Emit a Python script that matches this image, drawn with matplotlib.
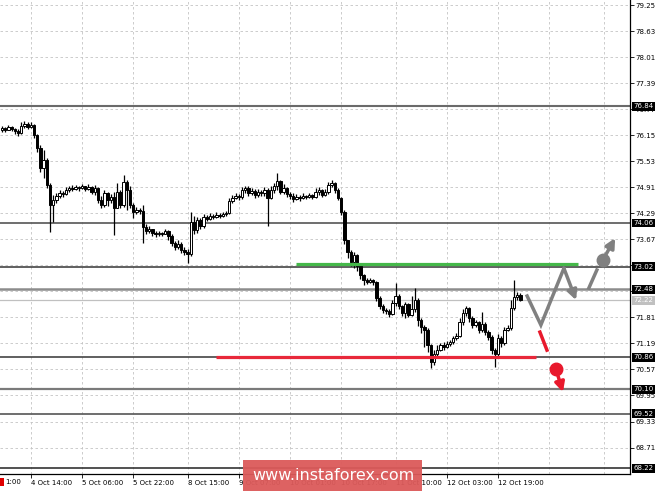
import matplotlib
matplotlib.use("Agg")

import matplotlib.pyplot as plt
from matplotlib.patches import Rectangle
import numpy as np

# H1 candles (open of each bar = previous close)
first_open = 76.27
closes = [76.32, 76.27, 76.34, 76.30, 76.25, 76.20, 76.37, 76.42, 76.34, 76.39,
          76.15, 75.84, 75.37, 75.56, 74.96, 74.49, 74.60, 74.70, 74.77, 74.75,
          74.84, 74.89, 74.87, 74.91, 74.89, 74.94, 74.87, 74.91, 74.80, 74.89,
          74.60, 74.49, 74.77, 74.60, 74.68, 74.41, 74.80, 74.49, 75.03, 74.84,
          74.49, 74.32, 74.37, 74.34, 73.96, 73.87, 73.91, 73.82, 73.79, 73.82,
          73.79, 73.87, 73.75, 73.58, 73.49, 73.56, 73.41, 73.37, 73.32, 74.08,
          73.89, 74.13, 73.98, 74.20, 74.15, 74.22, 74.20, 74.25, 74.22, 74.27,
          74.30, 74.58, 74.65, 74.70, 74.68, 74.84, 74.89, 74.77, 74.82, 74.72,
          74.80, 74.77, 74.84, 74.65, 74.84, 74.94, 75.06, 74.80, 74.89, 74.75,
          74.70, 74.63, 74.68, 74.65, 74.70, 74.68, 74.72, 74.68, 74.80, 74.84,
          74.72, 74.80, 74.96, 75.01, 74.84, 74.65, 74.32, 73.65, 73.37, 73.13,
          73.29, 73.03, 72.82, 72.70, 72.65, 72.70, 72.65, 72.27, 72.08, 71.98,
          71.96, 71.89, 72.15, 72.32, 72.08, 71.91, 72.13, 71.87, 72.01, 72.22,
          71.75, 71.58, 71.51, 71.15, 70.75, 70.94, 71.03, 71.15, 71.10, 71.18,
          71.22, 71.32, 71.37, 71.70, 71.91, 72.03, 71.79, 71.63, 71.70, 71.51,
          71.65, 71.46, 71.34, 71.03, 70.94, 71.32, 71.20, 71.51, 71.56, 72.03,
          72.30, 72.34, 72.22]
highs = [76.37, 76.34, 76.39, 76.37, 76.32, 76.30, 76.46, 76.49, 76.46, 76.46,
         76.42, 76.18, 75.91, 75.80, 75.61, 75.01, 74.72, 74.77, 74.84, 74.82,
         74.91, 74.94, 74.96, 74.96, 74.94, 74.99, 74.94, 74.99, 74.94, 74.96,
         74.91, 74.70, 74.84, 74.80, 74.75, 74.80, 75.01, 74.84, 75.20, 75.08,
         74.94, 74.53, 74.44, 74.41, 74.49, 74.03, 73.98, 73.91, 73.87, 73.87,
         73.84, 73.91, 73.89, 73.79, 73.63, 73.65, 73.60, 73.49, 73.44, 74.32,
         74.22, 74.20, 74.18, 74.27, 74.25, 74.30, 74.27, 74.32, 74.30, 74.32,
         74.34, 74.65, 74.72, 74.77, 74.75, 74.91, 74.94, 74.94, 74.89, 74.87,
         74.87, 74.84, 74.91, 74.89, 74.94, 75.01, 75.25, 75.08, 74.99, 74.91,
         74.80, 74.77, 74.75, 74.72, 74.77, 74.72, 74.77, 74.75, 74.89, 74.91,
         74.87, 74.87, 75.03, 75.08, 75.03, 74.89, 74.68, 74.37, 73.65, 73.41,
         73.37, 73.32, 73.08, 72.84, 72.75, 72.75, 72.72, 72.67, 72.32, 72.13,
         72.03, 72.01, 72.22, 72.63, 72.37, 72.10, 72.17, 72.15, 72.32, 72.51,
         72.27, 71.79, 71.63, 71.56, 71.18, 71.03, 71.15, 71.20, 71.22, 71.25,
         71.27, 71.37, 71.44, 71.79, 72.01, 72.08, 72.06, 71.84, 71.75, 71.72,
         71.94, 71.70, 71.51, 71.39, 71.08, 71.41, 71.37, 71.58, 71.63, 72.22,
         72.70, 72.41, 72.39]
lows = [76.22, 76.22, 76.27, 76.25, 76.18, 76.13, 76.18, 76.32, 76.30, 76.32,
        76.08, 75.75, 75.27, 75.13, 74.89, 73.84, 74.08, 74.53, 74.65, 74.68,
        74.72, 74.80, 74.82, 74.84, 74.82, 74.87, 74.82, 74.84, 74.75, 74.72,
        74.53, 74.41, 74.44, 74.46, 74.53, 73.77, 74.41, 74.41, 74.44, 74.37,
        74.41, 74.18, 74.27, 74.27, 73.58, 73.79, 73.82, 73.75, 73.72, 73.75,
        73.75, 73.79, 73.65, 73.51, 73.41, 73.44, 73.34, 73.29, 73.10, 73.27,
        73.79, 73.82, 73.91, 73.94, 74.10, 74.13, 74.15, 74.18, 74.18, 74.20,
        74.22, 74.27, 74.53, 74.63, 74.60, 74.63, 74.77, 74.70, 74.72, 74.65,
        74.68, 74.70, 74.70, 73.98, 74.63, 74.77, 74.84, 74.75, 74.75, 74.68,
        74.63, 74.56, 74.60, 74.58, 74.63, 74.63, 74.65, 74.63, 74.65, 74.72,
        74.68, 74.70, 74.75, 74.91, 74.77, 74.60, 74.25, 73.56, 73.22, 73.03,
        72.98, 72.91, 72.72, 72.58, 72.60, 72.63, 72.58, 72.20, 72.01, 71.91,
        71.89, 71.82, 71.87, 72.08, 72.01, 71.84, 71.79, 71.82, 71.84, 71.94,
        71.60, 71.44, 71.10, 70.98, 70.60, 70.67, 70.89, 71.01, 71.03, 71.08,
        71.13, 71.18, 71.27, 71.34, 71.63, 71.84, 71.70, 71.56, 71.58, 71.44,
        71.46, 71.39, 71.27, 70.94, 70.63, 70.84, 71.10, 71.15, 71.48, 71.50,
        71.98, 72.22, 72.20]

tick_bars = [9, 25, 41, 58, 74, 90, 106, 123, 139, 155]
tick_labels = ["4 Oct 14:00", "5 Oct 06:00", "5 Oct 22:00", "8 Oct 15:00",
               "9 Oct 07:00", "10 Oct 01:00", "10 Oct 17:00", "11 Oct 10:00",
               "12 Oct 03:00", "12 Oct 19:00"]
grid_bars = tick_bars + [171, 188]
price_ticks = [79.25, 78.63, 78.01, 77.39, 76.77, 76.15, 75.53, 74.91, 74.29,
               73.67, 73.05, 72.43, 71.81, 71.19, 70.57, 69.95, 69.33, 68.71]
# these scale labels sit fully under the level boxes on the original
hidden_ticks = [73.05, 72.43]

levels = [76.84, 74.06, 73.02, 72.48, 70.86, 70.10, 69.52, 68.22]
current_price = 72.22

# analyst's drawings
resistance = 73.08
resistance_bars = [92, 180]
support = 70.87
support_bars = [67, 167]
bull_path_bars = [164.1, 168.4, 175.6, 179.4]
bull_path_prices = [72.32, 71.63, 72.98, 72.22]
bull_dash_bars = [183.4, 185.9]
bull_dash_prices = [72.51, 72.94]
bull_dot = (187.8, 73.18)
bull_arrow_end = (191.6, 73.70)
bear_dash_bars = [168.1, 170.3]
bear_dash_prices = [71.46, 71.03]
bear_dot = (173.1, 70.58)
bear_arrow_end = (175.3, 70.03)

level_style = {76.84: ('#6a6a6a', 1.5), 74.06: ('#555555', 1.2),
               73.02: ('#444444', 1.2), 72.48: ('#8c8c8c', 1.8),
               70.86: ('#444444', 1.2), 70.10: ('#7a7a7a', 1.6),
               69.52: ('#555555', 1.2), 68.22: ('#333333', 1.2)}

fig = plt.figure(figsize=(6.65, 4.91), dpi=100)
ax = fig.add_axes([0, 17 / 491, 630 / 665, 474 / 491])
ax.set_xlim(-0.625, 196.25)
ax.set_ylim(68.08, 79.37)

# dashed grid
for b in grid_bars:
    ax.axvline(b, color='#c4c4c4', lw=0.6, ls=(0, (3, 3)), zorder=1)
for p in price_ticks:
    ax.axhline(p, color='#c4c4c4', lw=0.6, ls=(0, (3, 3)), zorder=1)

# horizontal levels
for lv in levels:
    col, w = level_style[lv]
    ax.axhline(lv, color=col, lw=w, zorder=2)
ax.axhline(current_price, color='#c0c0c0', lw=0.9, zorder=2)

# candles
x = np.arange(len(closes))
c = np.array(closes)
o = np.array([first_open] + closes[:-1])
ax.vlines(x, lows, highs, color='black', lw=0.9, zorder=3)
ax.bar(x, c - o, bottom=o, width=0.78,
       color=np.where(c >= o, 'white', 'black'), edgecolor='black',
       linewidth=0.7, zorder=4)

# support / resistance
ax.plot(resistance_bars, [resistance, resistance], color='#45b84a', lw=2.3,
        solid_capstyle='butt', zorder=5)
ax.plot(support_bars, [support, support], color='#e8283a', lw=2.3,
        solid_capstyle='butt', zorder=5)

gray = '#808080'
red = '#e8192c'
ax.plot(bull_path_bars[:3], bull_path_prices[:3], color=gray, lw=2.5,
        solid_joinstyle='miter', zorder=6)
ax.annotate('', xy=(bull_path_bars[3], bull_path_prices[3]),
            xytext=(bull_path_bars[2], bull_path_prices[2]),
            arrowprops=dict(arrowstyle='-|>', color=gray, lw=2.5,
                            mutation_scale=14, shrinkA=0, shrinkB=0), zorder=6)
ax.plot(bull_dash_bars, bull_dash_prices, color=gray, lw=2.5, zorder=6)
ax.plot(*bull_dot, 'o', color=gray, ms=9, zorder=6)
ax.annotate('', xy=bull_arrow_end, xytext=bull_dot,
            arrowprops=dict(arrowstyle='-|>', color=gray, lw=2.5,
                            mutation_scale=14, shrinkA=0, shrinkB=0), zorder=6)

ax.plot(bear_dash_bars, bear_dash_prices, color=red, lw=2.5, zorder=6)
ax.plot(*bear_dot, 'o', color=red, ms=9, zorder=6)
ax.annotate('', xy=bear_arrow_end, xytext=bear_dot,
            arrowprops=dict(arrowstyle='-|>', color=red, lw=2.5,
                            mutation_scale=14, shrinkA=0, shrinkB=0), zorder=6)

# axes look (MT4 style)
for s in ['left', 'top']:
    ax.spines[s].set_visible(False)
for s in ['right', 'bottom']:
    ax.spines[s].set_color('black')
    ax.spines[s].set_linewidth(0.9)
ax.yaxis.tick_right()
ax.set_yticks(price_ticks, ["" if p in hidden_ticks else f"{p:.2f}"
                            for p in price_ticks])
ax.tick_params(axis='y', length=3, width=0.6, pad=1, labelsize=5)
ax.set_xticks(tick_bars, tick_labels)
ax.tick_params(axis='x', length=3, width=0.6, pad=1.5, labelsize=5)
plt.setp(ax.get_xticklabels(), ha='left')

# price boxes on the right scale
tr = ax.get_yaxis_transform()
for lv in levels:
    ax.text(1.006, lv, f"{lv:.2f}", transform=tr, fontsize=5, color='white',
            va='center', ha='left', clip_on=False, zorder=10,
            bbox=dict(boxstyle='square,pad=0.2', fc='black', ec='none'))
ax.text(1.006, current_price, f"{current_price:.2f}", transform=tr, fontsize=5,
        color='white', va='center', ha='left', clip_on=False, zorder=10,
        bbox=dict(boxstyle='square,pad=0.2', fc='#c0c0c0', ec='none'))

# cut first date label
fig.patches.append(Rectangle((0, 5 / 491), 4 / 665, 8 / 491,
                             transform=fig.transFigure, fc='#e00000', ec='none'))
fig.text(5 / 665, 9 / 491, "1:00", fontsize=5, va='center', ha='left')

# watermark
fig.patches.append(Rectangle((243 / 665, 0), 179 / 665, 31 / 491,
                             transform=fig.transFigure, fc='#dc5a5a',
                             ec='none', alpha=0.95, zorder=20))
fig.text(333 / 665, 16 / 491, "www.instaforex.com", fontsize=11.5,
         color='white', ha='center', va='center', zorder=21)

fig.savefig('out.png', dpi=100)
